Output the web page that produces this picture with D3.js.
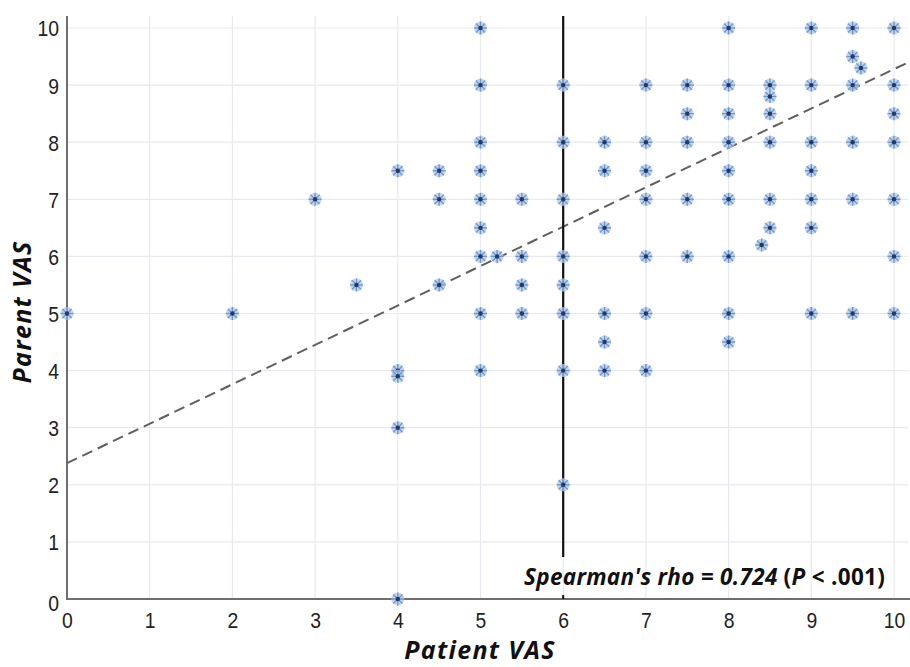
<!DOCTYPE html>
<html><head><meta charset="utf-8">
<script src="https://cdn.jsdelivr.net/npm/d3@7"></script>
<style>body{margin:0;background:#fff}svg{display:block}</style>
</head><body>
<svg id="c" width="910" height="667"></svg>
<script>
const xTicks = [0,1,2,3,4,5,6,7,8,9,10];
const yTicks = [0,1,2,3,4,5,6,7,8,9,10];
const patientVAS = [0,2,3,3.5,4,4,4,4,4,4.5,4.5,4.5,5,5,5,5,5,5,5,5,5,5.2,5.5,5.5,5.5,5.5,
  6,6,6,6,6,6,6,6,6.5,6.5,6.5,6.5,6.5,6.5,7,7,7,7,7,7,7,7.5,7.5,7.5,7.5,7.5,
  8,8,8,8,8,8,8,8,8,8.4,8.5,8.5,8.5,8.5,8.5,8.5,9,9,9,9,9,9,9,9.5,9.5,9.5,9.5,9.5,9.5,9.6,
  10,10,10,10,10,10,10];
const parentVAS = [5,5,7,5.5,7.5,4,3.9,3,0,7.5,7,5.5,10,9,8,7.5,7,6.5,6,5,4,6,7,6,5.5,5,
  9,8,7,6,5.5,5,4,2,8,7.5,6.5,5,4.5,4,9,8,7.5,7,6,5,4,9,8.5,8,7,6,
  10,9,8.5,8,7.5,7,6,5,4.5,6.2,9,8.8,8.5,8,7,6.5,10,9,8,7.5,7,6.5,5,10,9.5,9,8,7,5,9.3,
  10,9,8.5,8,7,6,5];
const fitIntercept = 2.38, fitSlope = 0.69;
const cutoffX = 6;

const svg = d3.select("#c");
const x = d3.scaleLinear().domain([0,10]).range([67,894]);
const y = d3.scaleLinear().domain([0,10]).range([599,28]);

// gridlines
const g = svg.append("g");
g.selectAll(".gx").data(xTicks.slice(1)).join("line")
  .attr("x1",d=>x(d)).attr("x2",d=>x(d)).attr("y1",y(0)).attr("y2",16)
  .attr("stroke","#e6e9f0").attr("stroke-width",1.2);
g.selectAll(".gy").data(yTicks.slice(1)).join("line")
  .attr("x1",x(0)).attr("x2",908).attr("y1",d=>y(d)).attr("y2",d=>y(d))
  .attr("stroke","#e8e9ee").attr("stroke-width",1.2);

// axes
const xAxis = d3.axisBottom(x).tickValues(xTicks).tickSize(0).tickPadding(0);
const yAxis = d3.axisLeft(y).tickValues(yTicks).tickSize(0).tickPadding(0);
const gx = svg.append("g").attr("transform",`translate(0,${y(0)})`).call(xAxis);
const gy = svg.append("g").attr("transform",`translate(${x(0)},0)`).call(yAxis);
[gx,gy].forEach(a=>{
  a.select(".domain").remove();
  a.selectAll("text").attr("font-family","'Liberation Sans',Arial,sans-serif")
   .attr("font-size",22).attr("fill","#222");
});
gx.selectAll("text").attr("y",0).attr("dy",0).attr("transform","translate(0,29) scale(0.88,1)");
gy.selectAll("text").attr("x",0).attr("dy","0.36em").attr("transform","translate(-8,0) scale(0.88,1)");
gy.selectAll(".tick").filter(d=>d===0).select("text").attr("transform","translate(-8,4) scale(0.88,1)");
svg.append("line").attr("x1",x(0)).attr("x2",910).attr("y1",y(0)).attr("y2",y(0)).attr("stroke","#6e6e6e").attr("stroke-width",2);
svg.append("line").attr("x1",x(0)).attr("x2",x(0)).attr("y1",16).attr("y2",y(0)+1).attr("stroke","#6e6e6e").attr("stroke-width",2);

// fit line
const xs = [0, 10.2];
svg.append("line")
  .attr("x1",x(xs[0])).attr("y1",y(fitIntercept+fitSlope*xs[0]))
  .attr("x2",x(xs[1])).attr("y2",y(fitIntercept+fitSlope*xs[1]))
  .attr("stroke","#5f5f5f").attr("stroke-width",2).attr("stroke-dasharray","11,6");

// cutoff line
svg.append("line").attr("x1",x(cutoffX)).attr("x2",x(cutoffX)).attr("y1",16).attr("y2",557)
  .attr("stroke","#111").attr("stroke-width",2.2);
svg.append("line").attr("x1",x(cutoffX)).attr("x2",x(cutoffX)).attr("y1",y(0)-4).attr("y2",y(0))
  .attr("stroke","#111").attr("stroke-width",2);

// points
const pts = patientVAS.map((v,i)=>[v,parentVAS[i]]);
const pg = svg.append("g").selectAll("g").data(pts).join("g")
  .attr("transform",d=>`translate(${x(d[0])},${y(d[1])})`);
pg.append("circle").attr("r",6.5).attr("fill","#b3cbea").attr("opacity",0.8);
const star = [0,45,90,135];
star.forEach(a=>{
  pg.append("line").attr("x1",-6.5).attr("x2",6.5).attr("y1",0).attr("y2",0)
    .attr("transform",`rotate(${a})`).attr("stroke","#7399cc").attr("stroke-width",1.4);
});
pg.append("circle").attr("r",2.2).attr("fill","#243a66");

// annotation
const ann = svg.append("text").attr("x",524).attr("y",585)
  .attr("font-family","'Open Sans',sans-serif").attr("font-weight",700).attr("font-size",22.5)
  .attr("letter-spacing",0.3).attr("fill","#111");
ann.append("tspan").attr("font-style","italic").text("Spearman's rho = 0.724");
ann.append("tspan").attr("dx",6).text("(");
ann.append("tspan").attr("font-style","italic").text("P");
ann.append("tspan").text(" < .001)");

// axis titles
svg.append("text").attr("x",480).attr("y",659).attr("text-anchor","middle")
  .attr("font-family","'Open Sans',sans-serif").attr("font-weight",700).attr("font-style","italic")
  .attr("font-size",25).attr("letter-spacing",1.3).attr("fill","#111").text("Patient VAS");
svg.append("text").attr("transform","translate(31,312) rotate(-90)").attr("text-anchor","middle")
  .attr("font-family","'Open Sans',sans-serif").attr("font-weight",700).attr("font-style","italic")
  .attr("font-size",25).attr("letter-spacing",1.3).attr("fill","#111").text("Parent VAS");
</script>
</body></html>
